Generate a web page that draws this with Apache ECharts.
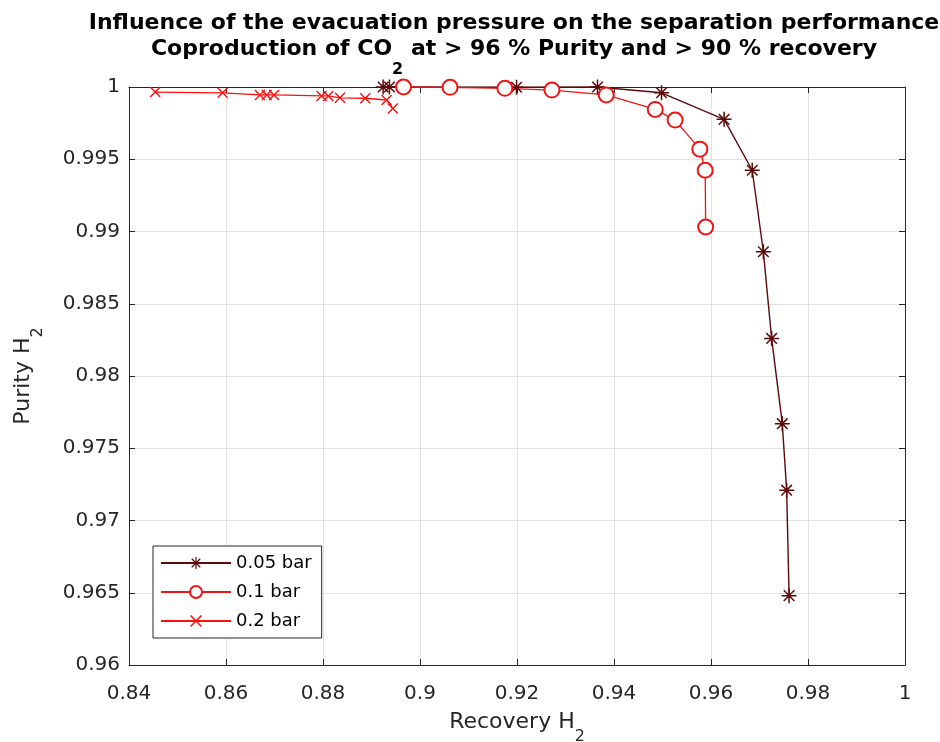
<!DOCTYPE html>
<html>
<head>
<meta charset="utf-8">
<script src="https://cdn.jsdelivr.net/npm/echarts@6/dist/echarts.min.js"></script>
<style>
    html, body { margin: 0; padding: 0; background: #fff; }
    #main { width: 940px; height: 742px; }
</style>
</head>
<body>
<div id="main"></div>
<script>
// recovery / purity per evacuation pressure
var rec005 = [0.8924, 0.8937, 0.9199, 0.9366, 0.9498, 0.9627, 0.9685, 0.9708, 0.9725, 0.9747, 0.9756, 0.9761];
var pur005 = [1.0, 1.0, 0.99998, 1.0, 0.9996, 0.99776, 0.99424, 0.9886, 0.9826, 0.9767, 0.9721, 0.9648];
var rec01 = [0.8966, 0.9062, 0.9175, 0.9272, 0.9384, 0.9485, 0.9526, 0.9577, 0.9588, 0.9589];
var pur01 = [1.0, 0.99998, 0.99991, 0.99979, 0.99945, 0.99845, 0.99771, 0.9957, 0.99424, 0.99031];
var rec02 = [0.8454, 0.8593, 0.8670, 0.8684, 0.8699, 0.8797, 0.8811, 0.8835, 0.8887, 0.8931, 0.8944];
var pur02 = [0.99965, 0.9996, 0.99945, 0.99945, 0.99945, 0.99938, 0.99938, 0.99925, 0.99922, 0.9991, 0.99852];
var seriesNames = ['0.05 bar', '0.1 bar', '0.2 bar'];

var xTicks = {min: 0.84, max: 1, interval: 0.02};
var yTicks = {min: 0.96, max: 1, interval: 0.005};

// asterisk and cross markers (matlab style)
var starPath = 'path://M9,0L11,0L11,20L9,20Z M0,9L20,9L20,11L0,11Z ' +
    'M3.64,2.22L17.78,16.36L16.36,17.78L2.22,3.64Z M2.22,16.36L16.36,2.22L17.78,3.64L3.64,17.78Z';
var crossPath = 'path://M3.64,2.22L17.78,16.36L16.36,17.78L2.22,3.64Z M2.22,16.36L16.36,2.22L17.78,3.64L3.64,17.78Z';

var pairs = function (xs, ys) {
    var out = [];
    for (var i = 0; i < xs.length; i++) {
        out.push([xs[i], ys[i]]);
    }
    return out;
};

var fmt = function (v) {
    return String(parseFloat(v.toFixed(3)));
};

var axisColor = '#262626';
var font = 'DejaVu Sans';

// rich styles for names with a subscript
var nameRich = {
    a: {fontFamily: font, fontSize: 22, color: axisColor, lineHeight: 26},
    s: {fontFamily: font, fontSize: 16, color: axisColor, lineHeight: 26, padding: [30, 0, 0, 0]}
};

var myChart = echarts.init(document.getElementById('main'));
var option = {
    backgroundColor: '#fff',
    animation: false,
    title: {
        left: 514,
        top: 10,
        padding: 0,
        textAlign: 'center',
        text: '{b|Influence of the evacuation pressure on the separation performance}\n' +
            '{b|Coproduction of CO}{s|2}{b| at > 96 % Purity and > 90 % recovery}',
        textStyle: {
            rich: {
                b: {fontFamily: font, fontWeight: 'bold', fontSize: 22, color: '#000', lineHeight: 26},
                s: {fontFamily: font, fontWeight: 'bold', fontSize: 16, color: '#000', lineHeight: 26, padding: [42, 0, 0, 0]}
            }
        }
    },
    legend: {
        orient: 'vertical',
        left: 153,
        top: 546,
        padding: [8, 10, 8, 7],
        itemWidth: 70,
        itemHeight: 15,
        itemGap: 11,
        borderColor: axisColor,
        borderWidth: 1,
        backgroundColor: '#fff',
        textStyle: {fontFamily: font, fontSize: 18, color: '#000'},
        data: seriesNames
    },
    grid: {left: 129, right: 35, top: 87, bottom: 77, containLabel: false, outerBoundsMode: 'none'},
    xAxis: [{
        type: 'value',
        min: xTicks.min,
        max: xTicks.max,
        interval: xTicks.interval,
        name: '{a|Recovery H}{s|2}',
        nameLocation: 'middle',
        nameGap: 44,
        nameMoveOverlap: false,
        nameTextStyle: {rich: nameRich},
        axisLine: {onZero: false, lineStyle: {color: axisColor, width: 1}},
        axisTick: {inside: true, length: 6, lineStyle: {color: axisColor}},
        axisLabel: {fontFamily: font, fontSize: 20, color: axisColor, margin: 19, formatter: fmt},
        splitLine: {show: true, lineStyle: {color: '#e2e2e2', width: 1}}
    }, {
        type: 'value',
        position: 'top',
        min: xTicks.min,
        max: xTicks.max,
        interval: xTicks.interval,
        axisLine: {onZero: false, lineStyle: {color: axisColor, width: 1}},
        axisTick: {inside: true, length: 6, lineStyle: {color: axisColor}},
        axisLabel: {show: false},
        splitLine: {show: false}
    }],
    yAxis: [{
        type: 'value',
        min: yTicks.min,
        max: yTicks.max,
        interval: yTicks.interval,
        name: '{a|Purity H}{s|2}',
        nameLocation: 'middle',
        nameRotate: 90,
        nameGap: 93,
        nameMoveOverlap: false,
        nameTextStyle: {rich: nameRich},
        axisLine: {onZero: false, lineStyle: {color: axisColor, width: 1}},
        axisTick: {inside: true, length: 6, lineStyle: {color: axisColor}},
        axisLabel: {fontFamily: font, fontSize: 20, color: axisColor, margin: 9, formatter: fmt},
        splitLine: {show: true, lineStyle: {color: '#e2e2e2', width: 1}}
    }, {
        type: 'value',
        position: 'right',
        min: yTicks.min,
        max: yTicks.max,
        interval: yTicks.interval,
        axisLine: {onZero: false, lineStyle: {color: axisColor, width: 1}},
        axisTick: {inside: true, length: 6, lineStyle: {color: axisColor}},
        axisLabel: {show: false},
        splitLine: {show: false}
    }],
    series: [{
        name: seriesNames[0],
        type: 'line',
        clip: false,
        data: pairs(rec005, pur005),
        symbol: starPath,
        symbolSize: 15,
        lineStyle: {color: '#5c0a0a', width: 1.4},
        itemStyle: {color: '#5c0a0a', borderWidth: 0}
    }, {
        name: seriesNames[1],
        type: 'line',
        clip: false,
        data: pairs(rec01, pur01),
        symbol: 'emptyCircle',
        symbolSize: 15,
        lineStyle: {color: '#f01414', width: 1.3},
        itemStyle: {color: '#f01414', borderColor: '#f01414', borderWidth: 1.2}
    }, {
        name: seriesNames[2],
        type: 'line',
        clip: false,
        data: pairs(rec02, pur02),
        symbol: crossPath,
        symbolSize: 11,
        lineStyle: {color: '#ff1010', width: 1.3},
        itemStyle: {color: '#ff1010', borderWidth: 0}
    }]
};
myChart.setOption(option);
</script>
</body>
</html>
